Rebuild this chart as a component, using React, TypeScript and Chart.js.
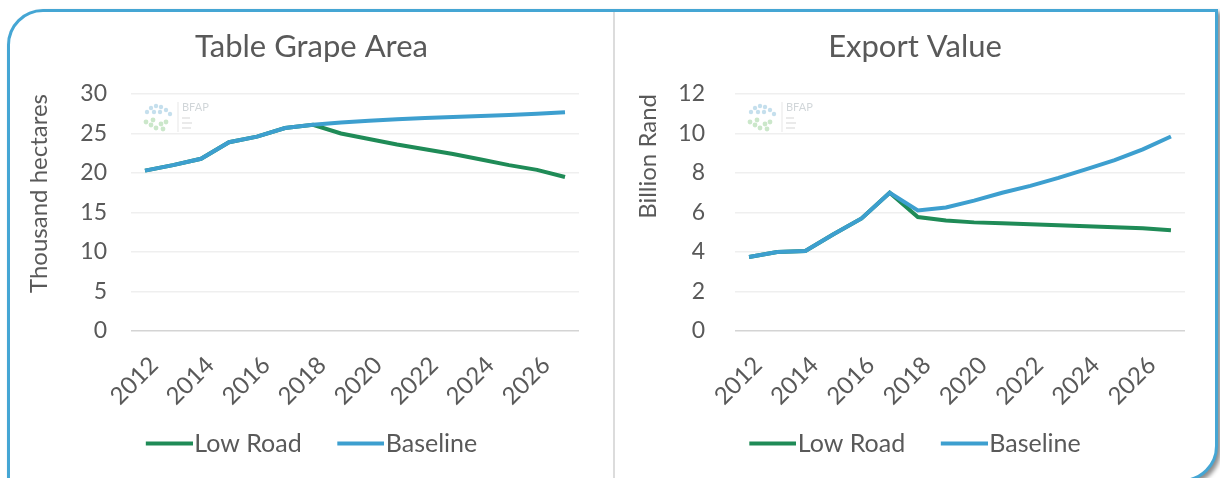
import React, { useEffect, useRef } from "react";
import { Chart, registerables } from "chart.js";

Chart.register(...registerables);

// ---- data ----
const years = ["2012", "2013", "2014", "2015", "2016", "2017", "2018", "2019", "2020", "2021", "2022", "2023", "2024", "2025", "2026", "2027"];
const seriesNames = ["Low Road", "Baseline"];

const areaLowRoad = [20.3, 21.0, 21.8, 23.9, 24.6, 25.7, 26.1, 25.0, 24.3, 23.6, 23.0, 22.4, 21.7, 21.0, 20.4, 19.5];
const areaBaseline = [20.3, 21.0, 21.8, 23.9, 24.6, 25.7, 26.1, 26.4, 26.6, 26.8, 26.95, 27.1, 27.2, 27.35, 27.5, 27.7];

const exportLowRoad = [3.75, 4.0, 4.05, 4.9, 5.7, 7.0, 5.77, 5.6, 5.5, 5.45, 5.4, 5.35, 5.3, 5.25, 5.2, 5.1];
const exportBaseline = [3.75, 4.0, 4.05, 4.9, 5.7, 7.0, 6.1, 6.25, 6.6, 7.0, 7.35, 7.75, 8.2, 8.65, 9.2, 9.85];

const areaAxis = { min: 0, max: 30, step: 5 };
const exportAxis = { min: 0, max: 12, step: 2 };

// ---- styles ----
const GREEN = "#1f8b57";
const BLUE = "#3d9fcf";
const TEXT = "#595959";
const FONT = "Lato, 'Open Sans', sans-serif";
const LEGEND_FS = 25;
const LEGEND_BOX = 36;
const LEGEND_LINE = 47;

function legendSwatch(color: string): HTMLCanvasElement {
  const w = 2 * (LEGEND_LINE - LEGEND_BOX / 2);
  const c = document.createElement("canvas");
  c.width = w;
  c.height = 6;
  const ctx = c.getContext("2d")!;
  ctx.fillStyle = color;
  ctx.fillRect(w - LEGEND_LINE, 1, LEGEND_LINE, 4);
  return c;
}

const watermark = {
  id: "bfapWatermark",
  beforeDatasetsDraw(chart: any) {
    const { ctx, chartArea } = chart;
    const x = chartArea.left + 10;
    const y = chartArea.top + 6;
    ctx.save();
    ctx.globalAlpha = 0.45;
    const blues = [[6, 12], [10, 8], [15, 6], [20, 7], [25, 10], [29, 14], [13, 12], [19, 12]];
    blues.forEach(([dx, dy]) => {
      ctx.beginPath();
      ctx.fillStyle = "#7fb8d8";
      ctx.arc(x + dx, y + dy, 2.2, 0, Math.PI * 2);
      ctx.fill();
    });
    const greens = [[5, 22], [10, 25], [15, 28], [20, 24], [25, 22], [12, 20], [22, 29]];
    greens.forEach(([dx, dy]) => {
      ctx.beginPath();
      ctx.fillStyle = "#8cc98a";
      ctx.arc(x + dx, y + dy, 2.4, 0, Math.PI * 2);
      ctx.fill();
    });
    ctx.strokeStyle = "#c8c8c8";
    ctx.lineWidth = 1;
    ctx.beginPath();
    ctx.moveTo(x + 37, y + 2);
    ctx.lineTo(x + 37, y + 32);
    ctx.stroke();
    ctx.fillStyle = "#9aa3ab";
    ctx.font = "11px " + FONT;
    ctx.textBaseline = "top";
    ctx.fillText("BFAP", x + 41, y + 2);
    ctx.fillStyle = "#d0d0d0";
    ctx.fillRect(x + 41, y + 17, 8, 2);
    ctx.fillRect(x + 41, y + 22, 10, 2);
    ctx.fillRect(x + 41, y + 27, 9, 2);
    ctx.restore();
  },
};

function makeConfig(
  title: string,
  yTitle: string,
  low: number[],
  base: number[],
  axis: { min: number; max: number; step: number },
  yWidth: number,
  rightWidth: number,
  tickPad: number,
  yTitlePad: number
): any {
  return {
    type: "line",
    data: {
      labels: years,
      datasets: [
        {
          label: seriesNames[0],
          data: low,
          borderColor: GREEN,
          backgroundColor: GREEN,
          borderWidth: 4,
          pointRadius: 0,
          pointStyle: legendSwatch(GREEN),
          tension: 0,
          order: 1,
        },
        {
          label: seriesNames[1],
          data: base,
          borderColor: BLUE,
          backgroundColor: BLUE,
          borderWidth: 4,
          pointRadius: 0,
          pointStyle: legendSwatch(BLUE),
          tension: 0,
          order: 0,
        },
      ],
    },
    options: {
      responsive: false,
      animation: false,
      devicePixelRatio: 1,
      layout: { padding: { left: 0, right: 0, top: 0, bottom: 12 } },
      plugins: {
        title: {
          display: true,
          text: title,
          color: TEXT,
          font: { family: FONT, size: 31, weight: "normal", lineHeight: 1.2 },
          padding: { top: 16.4, bottom: 28.4 },
        },
        legend: {
          display: true,
          position: "bottom",
          labels: {
            usePointStyle: true,
            pointStyleWidth: LEGEND_BOX,
            color: TEXT,
            font: { family: FONT, size: LEGEND_FS },
            padding: 10,
            generateLabels: (chart: any) => {
              const items = Chart.defaults.plugins.legend.labels.generateLabels(chart);
              items.forEach((it: any) => {
                if (it.datasetIndex === 0) it.text = it.text + "    ";
              });
              return items;
            },
            sort: (a: any, b: any) => a.datasetIndex - b.datasetIndex,
          },
        },
        tooltip: { enabled: false },
      },
      scales: {
        x: {
          type: "category",
          offset: true,
          grid: { display: false },
          border: { display: false },
          ticks: {
            autoSkip: false,
            minRotation: 45,
            maxRotation: 45,
            color: TEXT,
            padding: 12,
            labelOffset: 9,
            font: { family: FONT, size: 24 },
            callback: (_v: any, i: number) => (i % 2 === 0 ? years[i] : ""),
          },
          afterFit: (s: any) => {
            s.height = 90;
          },
        },
        y: {
          position: "left",
          min: axis.min,
          max: axis.max,
          grid: {
            drawTicks: false,
            lineWidth: 1.5,
            color: (c: any) => (c.tick && c.tick.value === 0 ? "#d4d4d4" : "#efefef"),
          },
          border: { display: false },
          ticks: {
            stepSize: axis.step,
            color: TEXT,
            padding: tickPad,
            font: { family: FONT, size: 23 },
          },
          title: {
            display: true,
            text: yTitle,
            align: "end",
            color: TEXT,
            font: { family: FONT, size: 24, lineHeight: 1.2 },
            padding: { top: yTitlePad, bottom: 0 },
          },
          afterFit: (s: any) => {
            s.width = yWidth;
          },
        },
        yR: {
          position: "right",
          display: true,
          grid: { display: false },
          border: { display: false },
          ticks: { display: false },
          afterFit: (s: any) => {
            s.width = rightWidth;
          },
        },
      },
    },
    plugins: [watermark],
  };
}

function ChartCanvas(props: { config: () => any; left: number; width: number }) {
  const ref = useRef<HTMLCanvasElement | null>(null);
  useEffect(() => {
    if (!ref.current) return;
    const chart = new Chart(ref.current, props.config());
    return () => chart.destroy();
  }, []);
  return (
    <canvas
      ref={ref}
      width={props.width}
      height={466}
      style={{ position: "absolute", left: props.left, top: 12, width: props.width, height: 466 }}
    />
  );
}

export default function App() {
  return (
    <div
      style={{
        position: "fixed",
        left: 0,
        top: 0,
        width: 1220,
        height: 478,
        overflow: "hidden",
        background: "#ffffff",
      }}
    >
      <div
        style={{
          position: "absolute",
          left: 7,
          top: 9,
          width: 1205,
          height: 467,
          border: "3px solid #45a6d4",
          borderTopLeftRadius: 36,
          borderBottomRightRadius: 36,
          boxShadow: "3px 3px 4px rgba(0,0,0,0.45)",
          background: "#ffffff",
        }}
      />
      <div
        style={{
          position: "absolute",
          left: 613,
          top: 12,
          width: 2,
          height: 470,
          background: "#dcdcdc",
        }}
      />
      <ChartCanvas
        left={10}
        width={603}
        config={() =>
          makeConfig("Table Grape Area", "Thousand hectares", areaLowRoad, areaBaseline, areaAxis, 121, 34, 24, 14.6)
        }
      />
      <ChartCanvas
        left={615}
        width={600}
        config={() =>
          makeConfig("Export Value", "Billion Rand", exportLowRoad, exportBaseline, exportAxis, 120, 30, 30, 18.6)
        }
      />
    </div>
  );
}
